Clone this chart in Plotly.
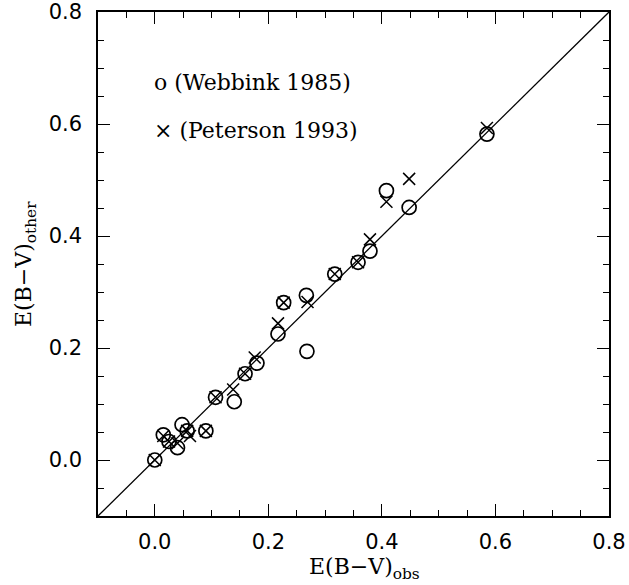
import plotly.graph_objects as go

# Colour excess comparison: E(B-V) adopted here vs. literature values
webbink_obs = [0.00, 0.015, 0.025, 0.040, 0.048, 0.057, 0.090, 0.107, 0.140, 0.159,
               0.180, 0.217, 0.227, 0.267, 0.268, 0.317, 0.358, 0.379, 0.408, 0.448, 0.585]
webbink_other = [0.00, 0.045, 0.033, 0.022, 0.063, 0.052, 0.052, 0.112, 0.104, 0.154,
                 0.173, 0.225, 0.281, 0.294, 0.194, 0.332, 0.353, 0.373, 0.481, 0.451, 0.582]

peterson_obs = [0.00, 0.015, 0.025, 0.040, 0.057, 0.062, 0.090, 0.107, 0.138, 0.159,
                0.176, 0.217, 0.227, 0.269, 0.317, 0.358, 0.379, 0.408, 0.448, 0.585]
peterson_other = [0.00, 0.043, 0.033, 0.030, 0.052, 0.043, 0.052, 0.112, 0.126, 0.154,
                  0.183, 0.244, 0.281, 0.282, 0.332, 0.353, 0.394, 0.461, 0.502, 0.593]

axis_range = [-0.1, 0.8]
tick_vals = [0.0, 0.2, 0.4, 0.6, 0.8]
tick_text = ["0.0", "0.2", "0.4", "0.6", "0.8"]

legend_labels = ["o (Webbink 1985)", "\u00d7 (Peterson 1993)"]

SERIF = "DejaVu Serif"
SANS = "DejaVu Sans"

fig = go.Figure()

# one-to-one line
fig.add_trace(go.Scatter(
    x=axis_range, y=axis_range, mode="lines",
    line=dict(color="black", width=1.3), hoverinfo="skip", showlegend=False,
))

fig.add_trace(go.Scatter(
    x=webbink_obs, y=webbink_other, mode="markers", name="Webbink 1985",
    marker=dict(symbol="circle-open", size=14, color="black", line=dict(width=1.7)),
    showlegend=False,
))

fig.add_trace(go.Scatter(
    x=peterson_obs, y=peterson_other, mode="markers", name="Peterson 1993",
    marker=dict(symbol="x-thin-open", size=12, color="black", line=dict(width=1.5)),
    showlegend=False,
))

tick_common = dict(
    range=axis_range, autorange=False, automargin=False,
    tickvals=tick_vals,
    ticks="inside", ticklen=12, tickwidth=1.3, tickcolor="black",
    minor=dict(dtick=0.05, tick0=0, ticks="inside", ticklen=6, tickwidth=1.2, tickcolor="black"),
    showline=True, linecolor="black", linewidth=1.5,
    showgrid=False, zeroline=False,
)

label_font = dict(family=SANS, size=21, color="#000000")

fig.update_layout(
    width=629, height=585,
    margin=dict(l=98, r=20, t=12, b=69),
    paper_bgcolor="white", plot_bgcolor="white",
    xaxis=dict(**tick_common, ticktext=tick_text, tickfont=label_font,
               ticklabelstandoff=6, ticklabeloverflow="allow"),
    yaxis=dict(**tick_common, ticktext=tick_text, tickfont=label_font,
               ticklabelstandoff=10, ticklabeloverflow="allow"),
    # frame on top and right with the same tick marks, no labels
    xaxis2=dict(**tick_common, overlaying="x", side="top", showticklabels=False),
    yaxis2=dict(**tick_common, overlaying="y", side="right", showticklabels=False),
)

# invisible trace so the top/right frame axes are drawn
fig.add_trace(go.Scatter(
    x=axis_range, y=axis_range, xaxis="x2", yaxis="y2", mode="lines",
    line=dict(width=0), opacity=0, hoverinfo="skip", showlegend=False,
))

# axis titles
fig.add_annotation(
    text="E(B\u2212V)<sub>obs</sub>", xref="paper", yref="paper",
    x=0.5, y=0, yshift=-52, xshift=11, yanchor="middle", xanchor="center",
    showarrow=False, font=dict(family=SERIF, size=22, color="black"),
)
fig.add_annotation(
    text="E(B\u2212V)<sub>other</sub>", xref="paper", yref="paper",
    x=0, y=0.5, xshift=-73, textangle=-90, xanchor="center", yanchor="middle",
    showarrow=False, font=dict(family=SERIF, size=22, color="black"),
)

# in-plot key
for i, label in enumerate(legend_labels):
    fig.add_annotation(
        text=label, xref="x", yref="y",
        x=-0.005, y=0.675 - i * 0.086, xanchor="left", yanchor="middle",
        showarrow=False, font=dict(family=SERIF, size=22, color="black"),
    )

fig.write_html("out.html")
